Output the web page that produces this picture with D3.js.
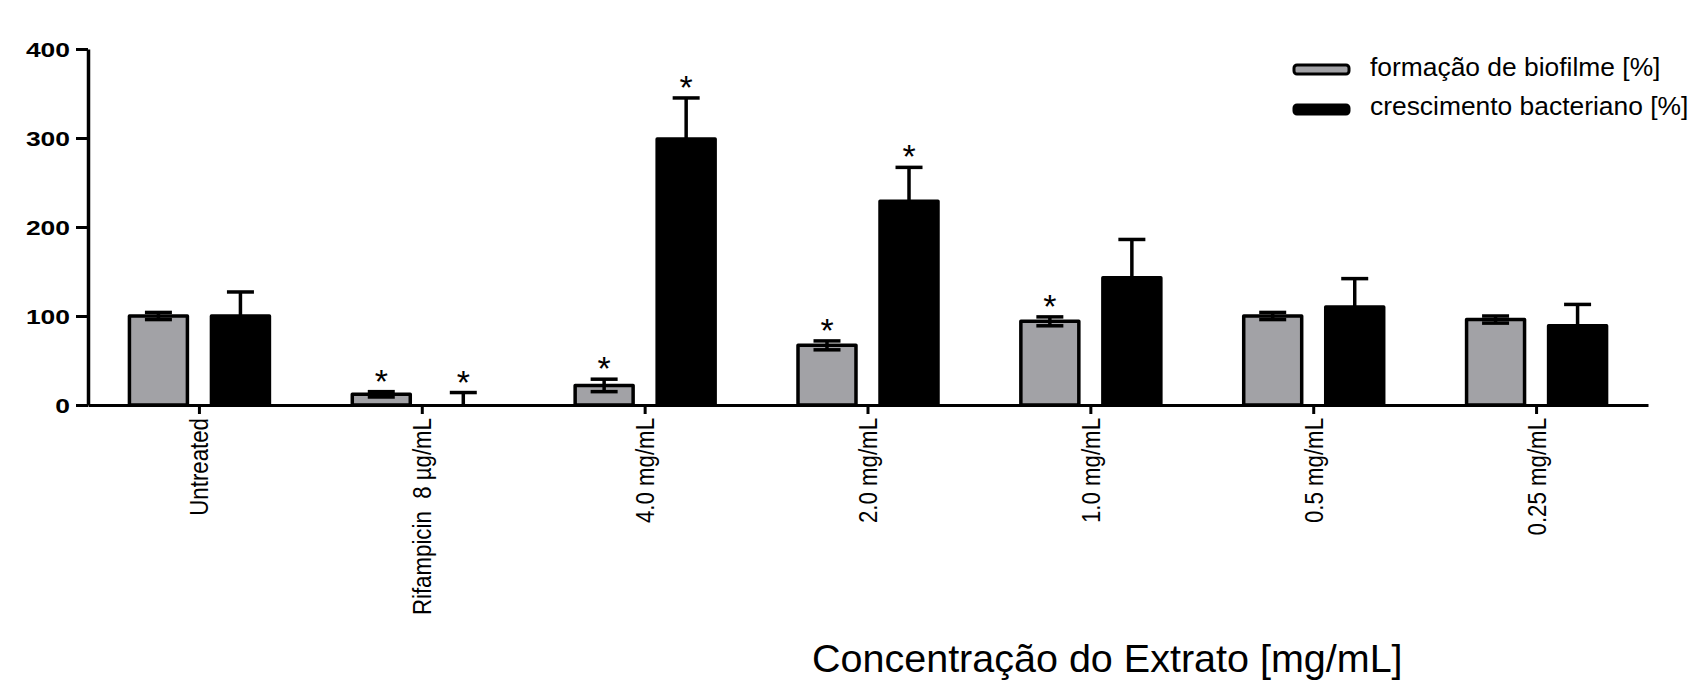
<!DOCTYPE html>
<html>
<head>
<meta charset="utf-8">
<script src="https://cdn.jsdelivr.net/npm/d3@7"></script>
<style>
  html, body { margin: 0; padding: 0; background: #fff; }
  svg { display: block; }
  text { font-family: Arial, "Liberation Sans", sans-serif; fill: #000; }
  .cat-label { white-space: pre; }
</style>
</head>
<body>
<svg id="chart" width="1703" height="683"></svg>
<script>
// Categories along the x axis
const categories = ["Untreated", "Rifampicin  8 µg/mL", "4.0 mg/mL", "2.0 mg/mL", "1.0 mg/mL", "0.5 mg/mL", "0.25 mg/mL"];

// Series names (legend)
const seriesNames = ["formação de biofilme [%]", "crescimento bacteriano [%]"];

// Biofilm formation (%) and its error
const biofilmValues = [100, 12, 22, 67, 94, 100, 96];
const biofilmErrors = [4, 3, 7, 5, 5, 4, 4];
const biofilmSignificant = [false, true, true, true, true, false, false];

// Bacterial growth (%) and its error
const growthValues = [100, 0, 299, 229, 143, 110, 89];
const growthErrors = [27, 14, 46, 38, 43, 32, 24];
const growthSignificant = [false, true, true, true, false, false, false];

// Y axis ticks
const yTicks = [0, 100, 200, 300, 400];

const xTitle = "Concentração do Extrato [mg/mL]";

const svg = d3.select("#chart");

const plotLeft = 88, plotRight = 1648, plotTop = 49, plotBottom = 405;

const x0 = d3.scaleBand().domain(categories).range([plotLeft, plotRight]).paddingInner(0).paddingOuter(0);
const keys = ["biofilm", "growth"];
const x1 = d3.scaleBand().domain(keys).range([0, 140]).paddingInner(0.293).paddingOuter(0);
const y = d3.scaleLinear().domain([0, 400]).range([plotBottom, plotTop]);

const fills = { biofilm: "#a2a2a6", growth: "#000000" };

const rows = categories.map((c, i) => ({
  cat: c,
  bars: [
    { key: "biofilm", v: biofilmValues[i], e: biofilmErrors[i], sig: biofilmSignificant[i], both: true },
    { key: "growth", v: growthValues[i], e: growthErrors[i], sig: growthSignificant[i], both: false }
  ]
}));

const center = c => x0(c) + x0.bandwidth() / 2;

// Bars
const groups = svg.append("g").selectAll("g").data(rows).join("g")
  .attr("transform", d => `translate(${center(d.cat) - 70},0)`);

groups.selectAll("rect").data(d => d.bars).join("rect")
  .attr("x", d => x1(d.key))
  .attr("width", x1.bandwidth())
  .attr("y", d => y(d.v))
  .attr("height", d => Math.max(0, y(0) - y(d.v)))
  .attr("fill", d => fills[d.key])
  .attr("stroke", "#000")
  .attr("stroke-width", 3.5)
  .attr("stroke-linejoin", "round");

// Error bars
const capW = 27;
const err = groups.selectAll("g.err").data(d => d.bars).join("g").attr("class", "err");
err.append("line")
  .attr("x1", d => x1(d.key) + x1.bandwidth() / 2)
  .attr("x2", d => x1(d.key) + x1.bandwidth() / 2)
  .attr("y1", d => y(d.both ? d.v - d.e : d.v))
  .attr("y2", d => y(d.v + d.e))
  .attr("stroke", "#000").attr("stroke-width", 3.5);
err.append("line")
  .attr("x1", d => x1(d.key) + x1.bandwidth() / 2 - capW / 2)
  .attr("x2", d => x1(d.key) + x1.bandwidth() / 2 + capW / 2)
  .attr("y1", d => y(d.v + d.e))
  .attr("y2", d => y(d.v + d.e))
  .attr("stroke", "#000").attr("stroke-width", 3.5);
err.filter(d => d.both).append("line")
  .attr("x1", d => x1(d.key) + x1.bandwidth() / 2 - capW / 2)
  .attr("x2", d => x1(d.key) + x1.bandwidth() / 2 + capW / 2)
  .attr("y1", d => y(d.v - d.e))
  .attr("y2", d => y(d.v - d.e))
  .attr("stroke", "#000").attr("stroke-width", 3.5);

// Significance asterisks
groups.selectAll("text.sig").data(d => d.bars.filter(b => b.sig)).join("text")
  .attr("class", "sig")
  .attr("x", d => x1(d.key) + x1.bandwidth() / 2)
  .attr("y", d => y(d.v + d.e) + 1)
  .attr("text-anchor", "middle")
  .attr("font-size", 34)
  .text("*");

// Y axis
const yAxis = svg.append("g").attr("transform", `translate(${plotLeft},0)`)
  .call(d3.axisLeft(y).tickValues(yTicks).tickSize(12).tickPadding(6).tickSizeOuter(0));
yAxis.select(".domain").attr("stroke", "#000").attr("stroke-width", 3.5);
yAxis.selectAll(".tick line").attr("stroke", "#000").attr("stroke-width", 3);
yAxis.selectAll(".tick text")
  .attr("font-size", 21).attr("font-weight", "bold")
  .attr("font-family", "Arial, 'Liberation Sans', sans-serif")
  .attr("dy", "0.36em")
  .attr("textLength", d => String(d).length * 14.7)
  .attr("lengthAdjust", "spacingAndGlyphs");

// X axis
const xAxis = svg.append("g").attr("transform", `translate(0,${plotBottom})`)
  .call(d3.axisBottom(x0).tickSize(9).tickSizeOuter(0).tickPadding(13));
xAxis.select(".domain").attr("stroke", "#000").attr("stroke-width", 3);
xAxis.selectAll(".tick line").attr("stroke", "#000").attr("stroke-width", 3);
xAxis.selectAll(".tick text")
  .attr("class", "cat-label")
  .attr("xml:space", "preserve")
  .attr("font-size", 25)
  .attr("font-family", "Arial, 'Liberation Sans', sans-serif")
  .attr("text-anchor", "end")
  .attr("transform", "translate(0,13) rotate(-90)")
  .attr("x", 0).attr("y", 0)
  .attr("dy", "0.36em")
  .each(function () {
    // slightly condensed lettering for the rotated category labels
    const natural = this.getComputedTextLength();
    d3.select(this)
      .attr("textLength", natural * 0.89)
      .attr("lengthAdjust", "spacingAndGlyphs");
  });

// X axis title
svg.append("text")
  .attr("x", 812).attr("y", 672)
  .attr("font-size", 39.5)
  .text(xTitle);

// Legend
const legend = svg.append("g");
const legendRows = seriesNames.map((n, i) => ({ name: n, key: keys[i], i }));
legend.selectAll("rect").data(legendRows).join("rect")
  .attr("x", 1294).attr("y", d => 65 + d.i * 40)
  .attr("width", 55).attr("height", 9)
  .attr("rx", 3)
  .attr("fill", d => fills[d.key])
  .attr("stroke", "#000").attr("stroke-width", 3);
legend.selectAll("text").data(legendRows).join("text")
  .attr("x", 1370).attr("y", d => 76 + d.i * 39)
  .attr("font-size", 26.4)
  .text(d => d.name);
</script>
</body>
</html>
